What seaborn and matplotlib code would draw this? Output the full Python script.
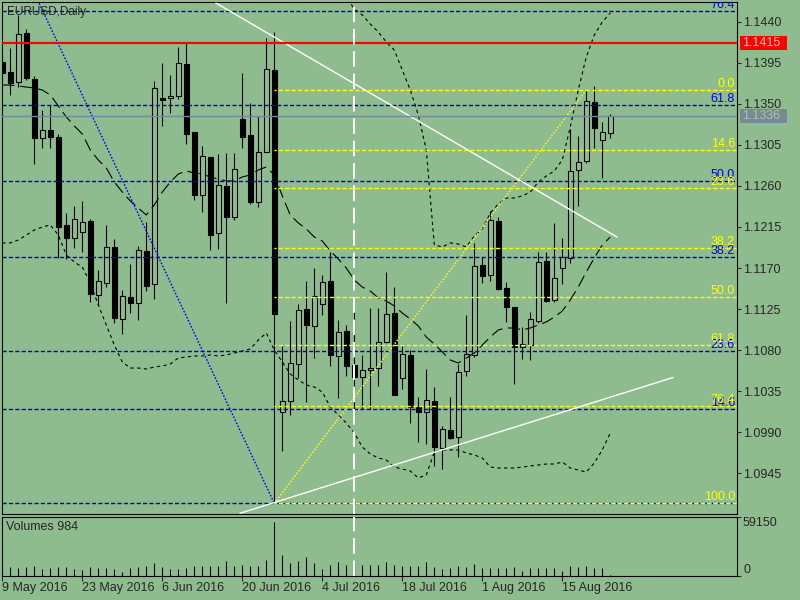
import pandas as pd
import matplotlib
matplotlib.use('Agg')
import matplotlib.pyplot as plt
import seaborn as sns
from matplotlib.patches import Rectangle

# Datos: velas diarias EURUSD (indice de barra 0 = 9 May 2016)
aperturas = [1.13962, 1.13852, 1.13743, 1.14280, 1.13772, 1.13122, 1.13213, 1.13140, 1.12172, 1.12026,
             1.12092, 1.12216, 1.11401, 1.11539, 1.11927, 1.11138, 1.11383, 1.11320, 1.11887, 1.11522,
             1.13561, 1.13561, 1.13589, 1.13937, 1.13188, 1.12501, 1.12920, 1.12081, 1.12599, 1.12263,
             1.13334, 1.13158, 1.12421, 1.12969, 1.13871, 1.10125, 1.10246, 1.10645, 1.11248, 1.11068,
             1.11303, 1.11558, 1.10739, 1.11010, 1.10637, 1.10509, 1.10582, 1.10608, 1.10893, 1.11211,
             1.10491, 1.10747, 1.10180, 1.10125, 1.10239, 1.09724, 1.09921, 1.09845, 1.10572, 1.10744,
             1.11733, 1.11624, 1.12216, 1.11478, 1.11270, 1.10831, 1.10856, 1.11123, 1.11777, 1.11350,
             1.11697, 1.11807, 1.12775, 1.12873, 1.13517, 1.13103, 1.13177]
maximos = [1.14013, 1.14109, 1.14474, 1.14320, 1.13805, 1.13432, 1.13487, 1.13166, 1.12300, 1.12380,
           1.12435, 1.12238, 1.11679, 1.12172, 1.12015, 1.11459, 1.11744, 1.11942, 1.12208, 1.13750,
           1.13944, 1.13816, 1.14126, 1.14163, 1.13188, 1.13041, 1.12920, 1.12950, 1.12958, 1.12958,
           1.13841, 1.13512, 1.13370, 1.14218, 1.14291, 1.10846, 1.11120, 1.11303, 1.11558, 1.11697,
           1.11624, 1.11879, 1.11131, 1.11076, 1.11221, 1.10747, 1.11259, 1.11259, 1.11653, 1.11489,
           1.10846, 1.10802, 1.10283, 1.10590, 1.10399, 1.09969, 1.10283, 1.10648, 1.11185, 1.11971,
           1.11824, 1.12329, 1.12263, 1.11550, 1.11270, 1.11050, 1.11221, 1.11879, 1.11879, 1.12197,
           1.12026, 1.13221, 1.13147, 1.13651, 1.13695, 1.13297, 1.13385]
minimos = [1.13761, 1.13597, 1.13688, 1.13761, 1.12837, 1.13019, 1.13019, 1.11810, 1.11796, 1.11920,
           1.11879, 1.11331, 1.11295, 1.11496, 1.11101, 1.10977, 1.11211, 1.11131, 1.11448, 1.11361,
           1.13257, 1.13396, 1.13553, 1.13060, 1.12446, 1.12318, 1.11898, 1.11905, 1.11313, 1.12227,
           1.13019, 1.12402, 1.12372, 1.12969, 1.09125, 1.09698, 1.10089, 1.10491, 1.10235, 1.10717,
           1.11185, 1.10626, 1.10279, 1.10517, 1.10016, 1.10152, 1.10152, 1.10410, 1.10882, 1.10308,
           1.10374, 1.09998, 1.09790, 1.09771, 1.09530, 1.09494, 1.09823, 1.09625, 1.10517, 1.10725,
           1.11533, 1.11561, 1.11459, 1.11112, 1.10429, 1.10700, 1.10692, 1.11101, 1.11331, 1.11331,
           1.11522, 1.11752, 1.12383, 1.12855, 1.13019, 1.12690, 1.13129]
cierres = [1.13835, 1.13725, 1.14265, 1.13780, 1.13122, 1.13213, 1.13140, 1.12153, 1.12026, 1.12238,
           1.12201, 1.11412, 1.11555, 1.11934, 1.11149, 1.11390, 1.11320, 1.11895, 1.11507, 1.13670,
           1.13542, 1.13582, 1.13944, 1.13169, 1.12501, 1.12928, 1.12062, 1.12610, 1.12256, 1.12782,
           1.13140, 1.12427, 1.12969, 1.13878, 1.11193, 1.10239, 1.10656, 1.11240, 1.11076, 1.11393,
           1.11544, 1.10747, 1.10995, 1.10626, 1.10509, 1.10582, 1.10604, 1.10886, 1.11196, 1.10308,
           1.10754, 1.10180, 1.10119, 1.10250, 1.09742, 1.09932, 1.09834, 1.10557, 1.10754, 1.11722,
           1.11613, 1.12227, 1.11467, 1.11276, 1.10831, 1.10867, 1.11138, 1.11763, 1.11339, 1.11588,
           1.11824, 1.12764, 1.12866, 1.13531, 1.13232, 1.13188, 1.13363]
volumenes = [9300, 9300, 8300, 9300, 10300, 7000, 8300, 9300, 9300, 7000,
             6000, 8600, 8300, 7600, 7000, 4300, 8300, 9300, 10000, 13300,
             9300, 7000, 7000, 8300, 10000, 10000, 10300, 10000, 14900, 10300,
             11000, 10300, 10000, 15900, 54100, 20900, 13300, 14900, 18600, 13300,
             7000, 11000, 14300, 11000, 13300, 11000, 11000, 11000, 13600, 11000,
             10000, 10000, 10000, 14300, 9300, 7000, 8300, 10000, 9300, 12000,
             8300, 8300, 7600, 8300, 9300, 5300, 7600, 8300, 7600, 8300,
             5300, 10300, 9300, 10000, 8300, 7600, 984]

# Bandas de Bollinger
banda_media = [1.13706, 1.13706, 1.13695, 1.13684, 1.13673, 1.13651, 1.13597, 1.13476, 1.13356, 1.13257,
               1.13169, 1.12994, 1.12884, 1.12797, 1.12643, 1.12533, 1.12435, 1.12358, 1.12281, 1.12391,
               1.12533, 1.12643, 1.12731, 1.12764, 1.12742, 1.12731, 1.12698, 1.12676, 1.12654, 1.12654,
               1.12698, 1.12720, 1.12775, 1.12808, 1.12720, 1.12490, 1.12281, 1.12194, 1.12128, 1.12040,
               1.11996, 1.11887, 1.11799, 1.11700, 1.11569, 1.11492, 1.11448, 1.11372, 1.11339, 1.11284,
               1.11207, 1.11141, 1.11065, 1.10944, 1.10867, 1.10780, 1.10692, 1.10659, 1.10714, 1.10769,
               1.10856, 1.10944, 1.11021, 1.11043, 1.11043, 1.11021, 1.11043, 1.11076, 1.11109, 1.11163,
               1.11229, 1.11350, 1.11492, 1.11657, 1.11810, 1.11953, 1.12040]
banda_sup_inicio = 43
banda_superior = [1.14671, 1.14539, 1.14474, 1.14375, 1.14287, 1.14178, 1.14090, 1.13871, 1.13651, 1.13378,
                  1.12994, 1.11953, 1.11931, 1.11975, 1.11964, 1.11931, 1.12051, 1.12128, 1.12303, 1.12402,
                  1.12468, 1.12468, 1.12490, 1.12533, 1.12643, 1.12709, 1.12764, 1.12884, 1.13246, 1.13651,
                  1.14013, 1.14254, 1.14397, 1.14496]
banda_inferior = [1.11975, 1.11975, 1.12007, 1.12062, 1.12117, 1.12150, 1.12172, 1.12062, 1.11843, 1.11766,
                  1.11711, 1.11536, 1.11295, 1.11076, 1.10856, 1.10670, 1.10604, 1.10604, 1.10593, 1.10615,
                  1.10626, 1.10648, 1.10714, 1.10725, 1.10736, 1.10736, 1.10747, 1.10736, 1.10747, 1.10769,
                  1.10791, 1.10813, 1.10911, 1.10988, 1.10802, 1.10670, 1.10539, 1.10473, 1.10418, 1.10396,
                  1.10341, 1.10177, 1.10089, 1.10002, 1.09892, 1.09738, 1.09662, 1.09618, 1.09596, 1.09519,
                  1.09497, 1.09475, 1.09399, 1.09432, 1.09684, 1.09706, 1.09706, 1.09706, 1.09673, 1.09651,
                  1.09618, 1.09519, 1.09508, 1.09508, 1.09508, 1.09519, 1.09530, 1.09541, 1.09552, 1.09552,
                  1.09574, 1.09508, 1.09486, 1.09464, 1.09563, 1.09706, 1.09892]

# Fibonacci y objetos
niveles_fibo = [0.0, 14.6, 23.6, 38.2, 50.0, 61.8, 76.4, 100.0]
fibo_azul = (1.1618, 1.09121)       # maximo, minimo
fibo_amarillo = (1.13651, 1.09121)  # maximo, minimo
fibo_amarillo_inicio = 34
linea_roja = 1.14165
precio_bid = 1.13363
etiquetas_precio = ['1.1415', '1.1336']
tendencia_bajista = ([26.7, 76.84], [1.14605, 1.12040])
tendencia_alcista = ([29.71, 83.84], [1.09012, 1.10500])
diagonal_azul = ([4.6, 34.0], [1.14602, 1.09121])
diagonal_amarilla = ([34.0, 73.0], [1.09121, 1.13651])
barra_vertical = 44

ticks_precio = [1.1440, 1.1395, 1.1350, 1.1305, 1.1260, 1.1215, 1.1170, 1.1125, 1.1080, 1.1035, 1.0990, 1.0945]
ticks_fecha = [0, 10, 20, 30, 40, 50, 60, 70]
etiquetas_fecha = ['9 May 2016', '23 May 2016', '6 Jun 2016', '20 Jun 2016', '4 Jul 2016',
                   '18 Jul 2016', '1 Aug 2016', '15 Aug 2016']

FONDO = '#8fbc8f'
AZUL = '#0000c8'
AMARILLO = '#ffff00'

sns.set_style('white', rc={'axes.facecolor': FONDO, 'figure.facecolor': FONDO,
                           'axes.edgecolor': 'black', 'axes.linewidth': 0.8})
plt.rcParams['font.family'] = ['Liberation Sans', 'DejaVu Sans']
plt.rcParams['font.size'] = 9

df = pd.DataFrame({'barra': range(len(cierres)), 'open': aperturas, 'high': maximos,
                   'low': minimos, 'close': cierres, 'vol': volumenes,
                   'media': banda_media, 'inferior': banda_inferior})
df['alcista'] = df['close'] >= df['open']
df['cuerpo_sup'] = df[['open', 'close']].max(axis=1)
df['cuerpo_inf'] = df[['open', 'close']].min(axis=1)
sup = pd.DataFrame({'barra': range(banda_sup_inicio, banda_sup_inicio + len(banda_superior)),
                    'superior': banda_superior})

fig = plt.figure(figsize=(8, 6), dpi=100)
ax = fig.add_axes([2 / 800, 86 / 600, 735 / 800, 512 / 600])
vax = fig.add_axes([2 / 800, 24 / 600, 735 / 800, 59.3 / 600])
xlim = (-0.04, 91.84)

# 1. Velas
ax.vlines(df['barra'], df['cuerpo_sup'], df['high'], color='black', lw=0.8, zorder=2)
ax.vlines(df['barra'], df['low'], df['cuerpo_inf'], color='black', lw=0.8, zorder=2)
altura = (df['cuerpo_sup'] - df['cuerpo_inf']).clip(lower=0.00005)
ax.bar(df['barra'], altura, bottom=df['cuerpo_inf'], width=0.58,
       color=['none' if a else 'black' for a in df['alcista']],
       edgecolor='black', linewidth=0.8, zorder=2)

# 2. Bandas
sns.lineplot(data=df, x='barra', y='media', ax=ax, color='black', linewidth=0.8,
             linestyle=(0, (11, 5)), zorder=3)
sns.lineplot(data=df, x='barra', y='inferior', ax=ax, color='black', linewidth=0.8,
             linestyle=(0, (3, 3)), zorder=3)
sns.lineplot(data=sup, x='barra', y='superior', ax=ax, color='black', linewidth=0.8,
             linestyle=(0, (3, 3)), zorder=3)

# 3. Fibonacci
ytrans = ax.get_yaxis_transform()
alto, bajo = fibo_azul
for nivel in niveles_fibo[:-1]:
    precio = bajo + nivel / 100 * (alto - bajo)
    ax.axhline(precio, color=AZUL, lw=1.0, linestyle=(0, (3, 1.6)), zorder=3)
    if nivel > 0:
        ax.text(0.9973, precio, f'{nivel:.1f}', color='#0000ff', ha='right', va='bottom',
                transform=ytrans, clip_on=True, zorder=4)
alto, bajo = fibo_amarillo
for nivel in niveles_fibo:
    precio = alto - nivel / 100 * (alto - bajo)
    ax.hlines(precio, fibo_amarillo_inicio, xlim[1], color=AMARILLO, lw=1.0,
              linestyle=(1.5, (3, 1.6)), zorder=3)
    ax.text(0.9973, precio, f'{nivel:.1f}', color=AMARILLO, ha='right', va='bottom',
            transform=ytrans, clip_on=True, zorder=4)

# 4. Objetos
ax.plot(*diagonal_azul, color='#0000ff', lw=1.0, linestyle=(0, (1.2, 1.2)), zorder=3)
ax.plot(*diagonal_amarilla, color=AMARILLO, lw=1.0, linestyle=(0, (1.2, 1.2)), zorder=3)
ax.plot(*tendencia_bajista, color='white', lw=1.0, zorder=3)
ax.plot(*tendencia_alcista, color='white', lw=1.0, zorder=3)
ax.axhline(precio_bid, color='#778899', lw=1.0, zorder=3)
ax.axhline(linea_roja, color='red', lw=1.6, zorder=3)
for a in (ax, vax):
    a.axvline(barra_vertical, color='white', lw=1.4, linestyle=(0, (8, 3.5)), zorder=3)

# 5. Etiquetas de precio en el eje
for precio, texto, fondo, color in [(linea_roja, etiquetas_precio[0], 'red', '#f8c8b8'),
                                    (precio_bid, etiquetas_precio[1], '#778899', '#a8c8a0')]:
    ax.add_patch(Rectangle((738 / 735, precio - 0.00077), 47 / 735, 0.00154, transform=ytrans,
                           facecolor=fondo, edgecolor='none', clip_on=False, zorder=5))
    ax.text(740.5 / 735, precio, texto, color=color, ha='left', va='center',
            transform=ytrans, clip_on=False, zorder=6)

ax.set_xlim(*xlim)
ax.set_ylim(1.09004, 1.14616)
ax.set_xticks([])
ax.yaxis.tick_right()
ax.set_yticks(ticks_precio)
ax.set_yticklabels([f'{p:.4f}' for p in ticks_precio])
ax.tick_params(axis='y', right=True, left=False, direction='out', length=3, width=0.8, pad=1.5)
ax.set_xlabel('')
ax.set_ylabel('')
ax.text(5 / 735, 1 - 10 / 512, 'EURUSD,Daily', transform=ax.transAxes, ha='left', va='center',
        fontsize=8.5)

# 6. Volumenes
vax.vlines(df['barra'], 0, df['vol'], color='black', lw=0.8)
vax.set_xlim(*xlim)
vax.set_ylim(0, 59150)
vax.yaxis.tick_right()
vax.set_yticks([0, 59150])
vax.set_yticklabels([])
vax.tick_params(axis='y', right=True, left=False, direction='out', length=3, width=0.8)
vax.set_xticks(ticks_fecha)
vax.set_xticklabels(etiquetas_fecha, ha='left')
vax.tick_params(axis='x', bottom=True, direction='out', length=3.5, width=0.8, pad=1)
vax.text(741 / 735, 1.0, '59150', transform=vax.transAxes, ha='left', va='top')
vax.text(741 / 735, 0.0, '0', transform=vax.transAxes, ha='left', va='bottom')
vax.text(4 / 735, 0.82, 'Volumes 984', transform=vax.transAxes, ha='left', va='center')

fig.savefig('out.png', dpi=100, facecolor=FONDO)
